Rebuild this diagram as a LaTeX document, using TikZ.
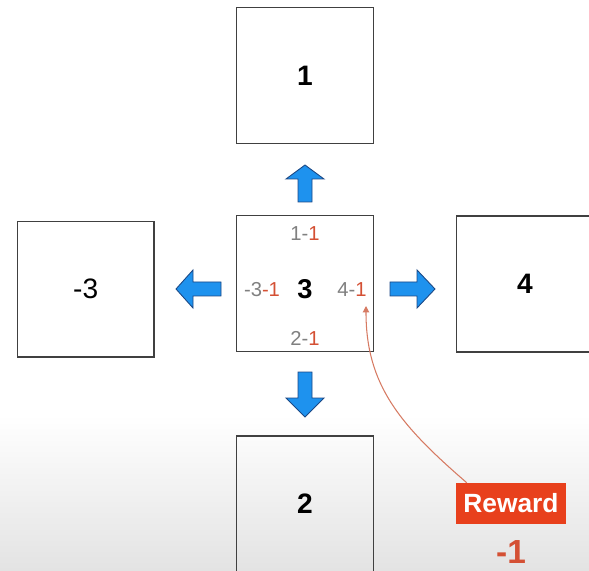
\documentclass[tikz,border=0pt]{standalone}
\usepackage{fontspec}
\setmainfont{Liberation Sans}
\usetikzlibrary{arrows.meta,calc}
\definecolor{movefill}{RGB}{30,146,238}
\definecolor{moveedge}{RGB}{28,72,132}
\definecolor{rewred}{RGB}{232,64,28}
\definecolor{valgray}{RGB}{128,128,128}
\definecolor{valred}{RGB}{212,80,52}
\definecolor{linkred}{RGB}{214,122,98}
\newcommand{\qval}[2]{\textcolor{valgray}{#1}\textcolor{valred}{#2}}

\begin{document}
\begin{tikzpicture}[
    x=0.02cm, y=-0.02cm,
    cell/.style={draw=black!75, line width=0.8pt, inner sep=0pt,
                 minimum width=2.74cm, minimum height=2.72cm,
                 font=\fontsize{16}{18}\selectfont\bfseries},
    lab/.style={inner sep=1pt, font=\fontsize{11.5}{13}\selectfont},
    move/.style={fill=movefill, draw=moveedge, line width=0.5pt,
                 line join=miter},
    rwd/.style={fill=rewred, text=white, inner sep=0pt,
                minimum width=2.2cm, minimum height=0.82cm,
                font=\fontsize{15}{17}\selectfont\bfseries},
    link/.style={-{Triangle[length=1.3mm,width=1.3mm]}, linkred,
                 line width=0.6pt},
  ]
  \useasboundingbox (0,0) rectangle (589,571);
  \clip (0,0) rectangle (589,571);

  %% ---- backdrop fading to grey at the bottom ---------------------------
  \shade[top color=white, bottom color=black!11] (0,415) rectangle (589,571);

  %% ---- grid cells ------------------------------------------------------
  \node[cell] (s1) at (305, 75.5) {1};
  \node[cell, font=\fontsize{16}{18}\selectfont] (s-3) at (85.7,289.2) {-3};
  \node[cell] (s3) at (305,283.7) {};
  \node[cell] (s4) at (525,284) {4};
  \node[cell] (s2) at (305,504) {2};

  %% ---- values of each move from the middle cell ------------------------
  \node[font=\fontsize{15.5}{17}\selectfont\bfseries, inner sep=0pt]
    (here) at (305,289) {3};
  \node[lab] (qup)    at (305,234) {\qval{1-}{1}};
  \node[lab] (qleft)  at (262,290) {\qval{-3}{-1}};
  \node[lab] (qright) at (352,290) {\qval{4-}{1}};
  \node[lab] (qdown)  at (305,338) {\qval{2-}{1}};

  %% ---- moves -----------------------------------------------------------
  \filldraw[move] (305,165) -- (324,179) -- (312,179) -- (312,202)
    -- (298,202) -- (298,179) -- (286,179) -- cycle;
  \filldraw[move] (305,417) -- (324,398) -- (312,398) -- (312,372)
    -- (298,372) -- (298,398) -- (286,398) -- cycle;
  \filldraw[move] (176,289) -- (193,270) -- (193,282) -- (221,282)
    -- (221,296) -- (193,296) -- (193,308) -- cycle;
  \filldraw[move] (435,289) -- (417,270) -- (417,282) -- (390,282)
    -- (390,296) -- (417,296) -- (417,308) -- cycle;

  %% ---- reward of the move to the right ---------------------------------
  \node[rwd] (rw) at (511,503.5) {Reward};
  \node[font=\fontsize{19}{21}\selectfont\bfseries, text=valred, inner sep=0pt]
    (rwval) at (511,552) {-1};
  \coordinate (hit) at (366,306);
  \draw[link] ($(rw.north west)+(11,0)$)
    .. controls (400,425) and (366,385) .. (hit);

\end{tikzpicture}
\end{document}
